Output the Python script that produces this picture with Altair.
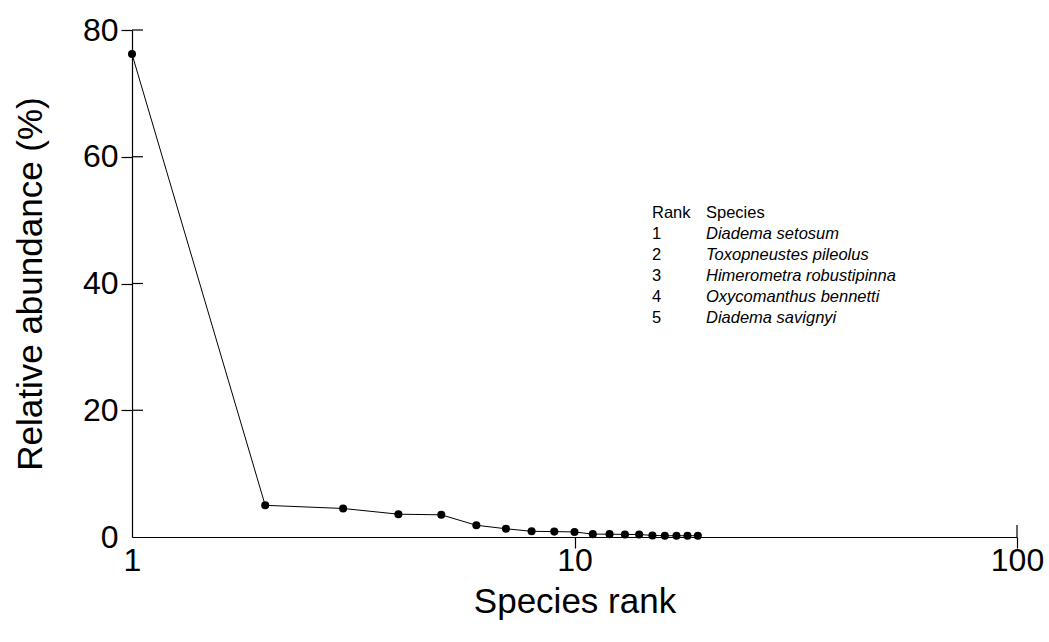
import altair as alt
import pandas as pd

# Rank-abundance values
ranks = list(range(1, 20))
abundance = [76.2, 5.0, 4.5, 3.6, 3.5, 1.85, 1.3, 0.9, 0.85, 0.8,
             0.45, 0.45, 0.4, 0.4, 0.25, 0.2, 0.2, 0.2, 0.2]

# Key to the five most abundant species
key_ranks = ["1", "2", "3", "4", "5"]
key_species = ["Diadema setosum", "Toxopneustes pileolus",
               "Himerometra robustipinna", "Oxycomanthus bennetti",
               "Diadema savignyi"]

x_ticks = [1, 10, 100]
y_ticks = [0, 20, 40, 60, 80]

FONT = "Liberation Sans"
W, H = 885, 507

df = pd.DataFrame({"rank": ranks, "abundance": abundance})

x_scale = alt.Scale(type="log", domain=[1, 100], nice=False)
y_scale = alt.Scale(domain=[0, 80], nice=False)

x_enc = alt.X("rank:Q", scale=x_scale,
              axis=alt.Axis(values=x_ticks, format="d", title="Species rank",
                            grid=False, domainColor="black", domainWidth=1.2,
                            tickColor="black", tickSize=11, tickWidth=1.2,
                            tickOpacity={"expr": "datum.value == 1 ? 0 : 1"},
                            labelFont=FONT, labelFontSize=32, labelColor="black",
                            labelPadding=-3, labelFlush=False,
                            titleFont=FONT, titleFontSize=35, titleFontWeight="normal",
                            titleColor="black", titlePadding=8))
y_enc = alt.Y("abundance:Q", scale=y_scale,
              axis=alt.Axis(values=y_ticks, title="Relative abundance (%)",
                            grid=False, domainColor="black", domainWidth=1.2,
                            tickColor="black", tickSize=11, tickWidth=1.2,
                            tickOpacity={"expr": "datum.value == 0 ? 0 : 1"},
                            labelFont=FONT, labelFontSize=32, labelColor="black",
                            labelPadding=3, labelFlush=False,
                            titleFont=FONT, titleFontSize=35, titleFontWeight="normal",
                            titleColor="black", titlePadding=34))

line = alt.Chart(df).mark_line(color="black", strokeWidth=1).encode(x=x_enc, y=y_enc)
points = alt.Chart(df).mark_circle(color="black", size=65, opacity=1).encode(
    x="rank:Q", y="abundance:Q")

# inner halves of the y ticks (ticks cross the axis line)
inner_df = pd.DataFrame({"abundance": y_ticks[1:]})
inner_ticks = alt.Chart(inner_df).mark_rule(color="black", strokeWidth=1.2).encode(
    y="abundance:Q", x=alt.value(0), x2=alt.value(11))

# upper half of the tick at the right end of the x axis
end_df = pd.DataFrame({"rank": [x_ticks[-1]]})
end_tick = alt.Chart(end_df).mark_rule(color="black", strokeWidth=1.2).encode(
    x="rank:Q", y=alt.value(H - 12), y2=alt.value(H))

# species key, one text row at a time
KEY_X1, KEY_X2, KEY_Y, KEY_DY = 520, 574, 183, 21
rows = [("Rank", "Species", "normal")] + [
    (r, s, "italic") for r, s in zip(key_ranks, key_species)]
key_layers = []
for i, (a, b, style) in enumerate(rows):
    row_df = pd.DataFrame({"a": [a], "b": [b]})
    y_px = KEY_Y + KEY_DY * i
    key_layers.append(
        alt.Chart(row_df).mark_text(font=FONT, fontSize=16.5, align="left",
                                    baseline="middle", color="black").encode(
            text="a:N", x=alt.value(KEY_X1), y=alt.value(y_px)))
    key_layers.append(
        alt.Chart(row_df).mark_text(font=FONT, fontSize=16.5, fontStyle=style,
                                    align="left", baseline="middle",
                                    color="black").encode(
            text="b:N", x=alt.value(KEY_X2), y=alt.value(y_px)))

chart = alt.layer(line, points, inner_ticks, end_tick, *key_layers).properties(
    width=W, height=H,
    autosize=alt.AutoSizeParams(type="none"),
    padding={"left": 132, "top": 30, "right": 32, "bottom": 105},
    background="white",
).configure_view(stroke=None)

chart.save("out.html", embed_options={"renderer": "svg", "actions": False})
